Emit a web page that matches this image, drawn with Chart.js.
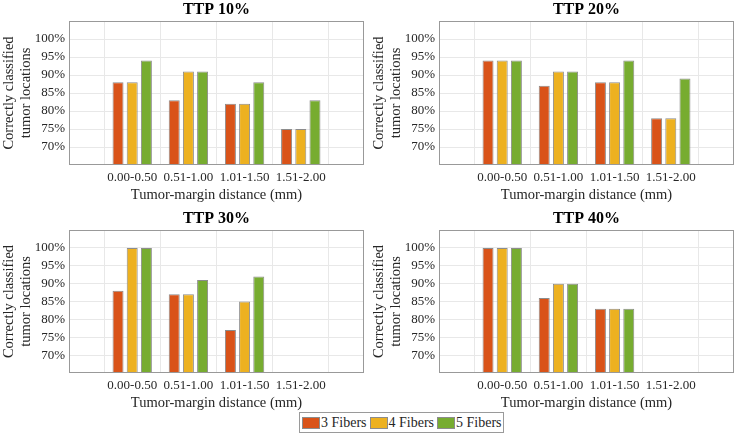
<!DOCTYPE html>
<html>
<head>
<meta charset="utf-8">
<script src="https://cdn.jsdelivr.net/npm/chart.js@4.4.0/dist/chart.umd.min.js"></script>
<style>
  body { margin: 0; background: #fff; width: 737px; height: 434px; position: relative; overflow: hidden; font-family: 'Liberation Serif', serif; }
  .panel { position: absolute; }
  #legend { position: absolute; left: 299px; top: 412px; width: 205px; height: 21px; border: 1px solid #9a9a9a; box-sizing: border-box;
            display: flex; align-items: center; padding-left: 2px; font-size: 14px; color: #262626; background: #fff; white-space: nowrap; }
  .item { display: flex; align-items: center; margin-right: 3px; flex-shrink: 0; }
  .sw { width: 18px; height: 12px; box-sizing: border-box; border: 1px solid #8c8c8c; margin-right: 1px; flex-shrink: 0; }
</style>
</head>
<body>
<div class="panel" style="left:0;top:0;width:370px;height:205px"><canvas id="ttp10"></canvas></div>
<div class="panel" style="left:370px;top:0;width:367px;height:205px"><canvas id="ttp20"></canvas></div>
<div class="panel" style="left:0;top:209px;width:370px;height:204px"><canvas id="ttp30"></canvas></div>
<div class="panel" style="left:370px;top:209px;width:367px;height:204px"><canvas id="ttp40"></canvas></div>
<div id="legend"></div>

<script>
// categories / series
const categories = ['0.00-0.50', '0.51-1.00', '1.01-1.50', '1.51-2.00'];
const fiberNames = ['3 Fibers', '4 Fibers', '5 Fibers'];
const fiberColors = ['#D95319', '#EDB120', '#77AC30'];
const yTicks = [70, 75, 80, 85, 90, 95, 100];

// TTP 10%
const ttp10_3 = [88, 83, 82, 75];
const ttp10_4 = [88, 91, 82, 75];
const ttp10_5 = [94, 91, 88, 83];
// TTP 20%
const ttp20_3 = [94, 87, 88, 78];
const ttp20_4 = [94, 91, 88, 78];
const ttp20_5 = [94, 91, 94, 89];
// TTP 30%
const ttp30_3 = [88, 87, 77, null];
const ttp30_4 = [100, 87, 85, null];
const ttp30_5 = [100, 91, 92, null];
// TTP 40%
const ttp40_3 = [100, 86, 83, null];
const ttp40_4 = [100, 90, 83, null];
const ttp40_5 = [100, 90, 83, null];

Chart.defaults.font.family = "'Liberation Serif', serif";
Chart.defaults.color = '#262626';

// box around the axes + title centred over the axes (like matlab)
const boxPlugin = {
  id: 'box',
  afterDraw(chart, args, opts) {
    const a = chart.chartArea;
    const ctx = chart.ctx;
    ctx.save();
    ctx.strokeStyle = '#999999';
    ctx.lineWidth = 1;
    ctx.strokeRect(Math.round(a.left) + 0.5, Math.round(a.top) + 0.5, Math.round(a.right - a.left) - 1, Math.round(a.bottom - a.top) - 1);
    ctx.fillStyle = '#000';
    ctx.font = "bold 16px 'Liberation Serif', serif";
    ctx.textAlign = 'center';
    ctx.textBaseline = 'middle';
    ctx.fillText(opts.text, (a.left + a.right) / 2, 10);
    ctx.restore();
  }
};

function toPoints(values) {
  const pts = [];
  values.forEach((v, i) => { if (v !== null) pts.push({ x: i + 1, y: v }); });
  return pts;
}

function makePanel(id, title, series, rightPad) {
  const datasets = series.map((vals, k) => ({
    label: fiberNames[k],
    data: toPoints(vals),
    backgroundColor: fiberColors[k],
    borderColor: '#8c8c8c',
    borderWidth: 1,
    borderSkipped: false,
    categoryPercentage: 0.757,
    barPercentage: 0.775
  }));

  new Chart(document.getElementById(id).getContext('2d'), {
    type: 'bar',
    data: { datasets: datasets },
    options: {
      responsive: true,
      maintainAspectRatio: false,
      animation: false,
      layout: { padding: { left: 0, right: rightPad, top: 21, bottom: 0 } },
      plugins: {
        legend: { display: false },
        tooltip: { enabled: false },
        box: { text: title }
      },
      scales: {
        x: {
          type: 'linear',
          min: -0.125,
          max: 5.125,
          offset: false,
          afterBuildTicks: (scale) => { scale.ticks = categories.map((c, i) => ({ value: i + 1 })); },
          afterFit: (scale) => { scale.height = 40; },
          ticks: {
            autoSkip: false,
            maxRotation: 0,
            padding: 5,
            font: { size: 13 },
            callback: (v) => categories[v - 1]
          },
          grid: { color: '#e8e8e8', drawTicks: false },
          border: { display: false },
          title: {
            display: true,
            text: 'Tumor-margin distance (mm)',
            font: { size: 14.5 },
            padding: { top: 0, bottom: 1 }
          }
        },
        y: {
          min: 65,
          max: 105,
          afterBuildTicks: (scale) => { scale.ticks = yTicks.map(v => ({ value: v })); },
          afterFit: (scale) => { scale.width = 69; },
          ticks: {
            padding: 4,
            font: { size: 13 },
            callback: (v) => v + '%'
          },
          grid: { color: '#e8e8e8', drawTicks: false },
          border: { display: false },
          title: {
            display: true,
            text: ['Correctly classified', 'tumor locations'],
            font: { size: 14.5, lineHeight: 1.2 },
            padding: { top: 0, bottom: 0 }
          }
        }
      }
    },
    plugins: [boxPlugin]
  });
}

makePanel('ttp10', 'TTP 10%', [ttp10_3, ttp10_4, ttp10_5], 6);
makePanel('ttp20', 'TTP 20%', [ttp20_3, ttp20_4, ttp20_5], 3);
makePanel('ttp30', 'TTP 30%', [ttp30_3, ttp30_4, ttp30_5], 6);
makePanel('ttp40', 'TTP 40%', [ttp40_3, ttp40_4, ttp40_5], 3);

// shared legend
const legend = document.getElementById('legend');
fiberNames.forEach((name, k) => {
  const item = document.createElement('div');
  item.className = 'item';
  const sw = document.createElement('div');
  sw.className = 'sw';
  sw.style.background = fiberColors[k];
  const txt = document.createElement('span');
  txt.textContent = name;
  item.appendChild(sw);
  item.appendChild(txt);
  legend.appendChild(item);
});
</script>
</body>
</html>
